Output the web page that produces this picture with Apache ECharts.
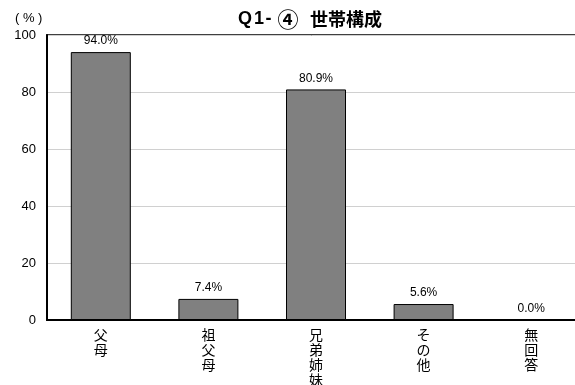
<!DOCTYPE html>
<html>
<head>
<meta charset="utf-8">
<script src="https://cdn.jsdelivr.net/npm/echarts@6/dist/echarts.min.js"></script>
<style>
html,body{margin:0;padding:0;background:#fff;}
#chart{width:575px;height:385px;}
</style>
</head>
<body>
<div id="chart"></div>
<script>
const titleParts = ['Q', '1', '-', '④', '世帯構成'];
const yUnit = '( % )';
const categories = ['父母', '祖父母', '兄弟姉妹', 'その他', '無回答'];
const values = [94.0, 7.4, 80.9, 5.6, 0.0];
const yTicks = [0, 20, 40, 60, 80, 100];

const FONT = '"Noto Sans CJK JP", "Liberation Sans", sans-serif';
const LAT = '"Liberation Sans", sans-serif';
const tBase = { fontFamily: FONT, fontSize: 18, fontWeight: 'bold', color: '#000', align: 'center', verticalAlign: 'middle', lineHeight: 20 };
const chart = echarts.init(document.getElementById('chart'));
chart.setOption({
  animation: false,
  backgroundColor: '#fff',
  title: {
    text: '{q|' + titleParts[0] + '}{o|' + titleParts[1] + '}{d|' + titleParts[2] + '}{c|' + titleParts[3] + '}{sp2|}{s|' + titleParts[4] + '}',
    left: 235,
    top: 9,
    padding: 0,
    textStyle: {
      rich: {
        q: Object.assign({}, tBase, { fontFamily: LAT, width: 20 }),
        o: Object.assign({}, tBase, { fontFamily: LAT, width: 8 }),
        d: Object.assign({}, tBase, { fontFamily: LAT, width: 11 }),
        c: Object.assign({}, tBase, { width: 28, fontSize: 21, fontWeight: 'bold' }),
        sp2: Object.assign({}, tBase, { width: 8 }),
        s: Object.assign({}, tBase, { align: 'left' })
      }
    }
  },
  graphic: [{
    type: 'text',
    left: 15,
    top: 12,
    style: { text: yUnit, fontFamily: LAT, fontSize: 13, fill: '#000' }
  }],
  grid: {
    left: 47, right: -10, top: 35, bottom: 65,
    outerBoundsMode: 'none',
    containLabel: false,
    show: true, borderColor: '#000', borderWidth: 1.5, backgroundColor: 'transparent'
  },
  xAxis: {
    type: 'category',
    data: categories,
    axisLine: { lineStyle: { color: '#000', width: 2 } },
    axisTick: { show: false },
    axisLabel: {
      interval: 0,
      margin: 7,
      fontFamily: FONT,
      fontSize: 14,
      lineHeight: 15,
      color: '#000',
      formatter: v => v.split('').join('\n')
    }
  },
  yAxis: {
    type: 'value',
    min: yTicks[0],
    max: yTicks[yTicks.length - 1],
    interval: 20,
    axisLine: { show: true, lineStyle: { color: '#000', width: 2 } },
    axisTick: { show: false },
    splitLine: { lineStyle: { color: '#d0d0d0', width: 1 } },
    axisLabel: { fontFamily: LAT, fontSize: 13, color: '#000', margin: 11 }
  },
  series: [{
    type: 'bar',
    data: values,
    barWidth: 60,
    itemStyle: { color: '#808080', borderColor: '#000', borderWidth: 1 },
    label: {
      show: true,
      position: 'top',
      distance: 5,
      fontFamily: LAT,
      fontSize: 12,
      color: '#000',
      formatter: p => p.value.toFixed(1) + '%'
    }
  }]
});
</script>
</body>
</html>
